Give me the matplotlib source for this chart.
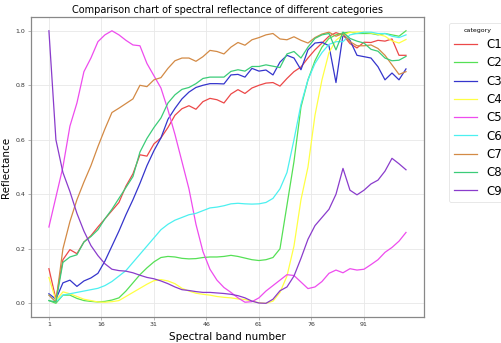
import numpy as np
import matplotlib
matplotlib.use("Agg")
import matplotlib.pyplot as plt

# band numbers (every second band of 103)
bands = list(range(1, 104, 2))
categories = ["C1", "C2", "C3", "C4", "C5", "C6", "C7", "C8", "C9"]

c1 = [0.127, 0.015, 0.16, 0.197, 0.182, 0.225, 0.248, 0.28, 0.31, 0.34, 0.37, 0.43, 0.475,
      0.545, 0.54, 0.585, 0.607, 0.645, 0.69, 0.714, 0.725, 0.712, 0.74, 0.752, 0.747, 0.735,
      0.768, 0.784, 0.77, 0.79, 0.8, 0.808, 0.81, 0.797, 0.825, 0.85, 0.867, 0.9, 0.93, 0.955,
      0.98, 0.993, 0.985, 0.953, 0.937, 0.958, 0.957, 0.965, 0.962, 0.97, 0.91, 0.91]
c2 = [0.01, 0.0, 0.03, 0.03, 0.018, 0.01, 0.007, 0.005, 0.007, 0.012, 0.02, 0.045, 0.075,
      0.105, 0.13, 0.152, 0.168, 0.172, 0.17, 0.165, 0.163, 0.164, 0.168, 0.17, 0.17, 0.172,
      0.176, 0.172, 0.166, 0.16, 0.157, 0.16, 0.168, 0.2, 0.36, 0.52, 0.72, 0.82, 0.89, 0.94,
      0.972, 0.985, 0.992, 0.995, 0.99, 0.99, 0.99, 0.985, 0.99, 0.985, 0.98, 1.0]
c3 = [0.035, 0.015, 0.075, 0.085, 0.062, 0.082, 0.093, 0.11, 0.155, 0.21, 0.265, 0.325, 0.38,
      0.44, 0.505, 0.56, 0.607, 0.675, 0.715, 0.75, 0.775, 0.792, 0.8, 0.806, 0.806, 0.805,
      0.838, 0.84, 0.83, 0.862, 0.852, 0.856, 0.838, 0.885, 0.91, 0.9, 0.857, 0.93, 0.955, 0.958,
      0.945, 0.81, 0.985, 0.965, 0.91, 0.905, 0.9, 0.868, 0.82, 0.845, 0.82, 0.86]
c4 = [0.095, 0.01, 0.042, 0.035, 0.025, 0.015, 0.01, 0.005, 0.004, 0.006, 0.01, 0.025, 0.04,
      0.055, 0.07, 0.083, 0.087, 0.082, 0.072, 0.055, 0.045, 0.037, 0.033, 0.03, 0.025, 0.022,
      0.02, 0.016, 0.014, 0.008, 0.002, 0.0, 0.008, 0.04, 0.1, 0.21, 0.38, 0.5, 0.69, 0.82,
      0.92, 0.965, 0.985, 0.994, 0.996, 0.995, 0.992, 0.987, 0.98, 0.963, 0.955, 0.968]
c5 = [0.28, 0.39, 0.5, 0.65, 0.735, 0.85, 0.9, 0.96, 0.985, 1.0, 0.985, 0.965, 0.948,
      0.945, 0.88, 0.835, 0.79, 0.71, 0.62, 0.52, 0.42, 0.29, 0.19, 0.125, 0.085, 0.058,
      0.04, 0.02, 0.004, 0.006, 0.02, 0.045, 0.065, 0.085, 0.105, 0.102, 0.078, 0.054, 0.06, 0.08,
      0.11, 0.122, 0.112, 0.127, 0.122, 0.125, 0.142, 0.16, 0.187, 0.205, 0.228, 0.26]
c6 = [0.03, 0.005, 0.03, 0.035, 0.04, 0.045, 0.05, 0.055, 0.065, 0.08, 0.1, 0.12, 0.15,
      0.18, 0.21, 0.24, 0.27, 0.29, 0.305, 0.315, 0.325, 0.33, 0.34, 0.35, 0.353, 0.358,
      0.365, 0.367, 0.365, 0.364, 0.365, 0.37, 0.385, 0.42, 0.48, 0.6, 0.73, 0.82, 0.88, 0.92,
      0.95, 0.96, 0.96, 0.985, 0.99, 0.995, 0.995, 0.99, 0.99, 0.98, 0.975, 0.985]
c7 = [0.03, 0.005, 0.2, 0.3, 0.38, 0.445, 0.505, 0.575, 0.64, 0.7, 0.716, 0.733, 0.75,
      0.8, 0.795, 0.82, 0.828, 0.862, 0.89, 0.9, 0.9, 0.888, 0.905, 0.928, 0.924, 0.915,
      0.94, 0.957, 0.947, 0.967, 0.975, 0.985, 0.99, 0.97, 0.967, 0.978, 0.965, 0.955, 0.975, 0.988,
      0.995, 0.98, 0.99, 0.96, 0.945, 0.945, 0.948, 0.935, 0.91, 0.875, 0.84, 0.85]
c8 = [0.01, 0.005, 0.15, 0.17, 0.178, 0.225, 0.245, 0.27, 0.31, 0.345, 0.385, 0.425, 0.465,
      0.555, 0.605, 0.645, 0.68, 0.735, 0.765, 0.785, 0.792, 0.806, 0.825, 0.83, 0.83, 0.83,
      0.851, 0.857, 0.852, 0.869, 0.869, 0.875, 0.87, 0.865, 0.915, 0.924, 0.9, 0.94, 0.972, 0.985,
      0.99, 0.93, 0.995, 0.972, 0.962, 0.955, 0.932, 0.925, 0.9, 0.89, 0.892, 0.906]
c9 = [1.0, 0.6, 0.48, 0.41, 0.33, 0.265, 0.212, 0.175, 0.145, 0.125, 0.12, 0.118, 0.112,
      0.103, 0.095, 0.09, 0.082, 0.072, 0.06, 0.05, 0.047, 0.043, 0.04, 0.04, 0.038, 0.036,
      0.033, 0.028, 0.02, 0.008, 0.001, 0.0, 0.015, 0.046, 0.06, 0.1, 0.165, 0.235, 0.285, 0.315,
      0.345, 0.4, 0.495, 0.415, 0.398, 0.415, 0.438, 0.452, 0.485, 0.532, 0.512, 0.49]

series = [c1, c2, c3, c4, c5, c6, c7, c8, c9]
colors = ["#ec4848", "#55e055", "#3535cc", "#ffff44", "#ee4cee",
          "#4cf0f0", "#d38a45", "#3bcc78", "#8a3ccc"]

fig = plt.figure(figsize=(5.01, 3.43), dpi=100)
ax = fig.add_axes([0.062, 0.076, 0.784, 0.874])

for vals, col, name in zip(series, colors, categories):
    ax.plot(bands, vals, color=col, lw=0.9, label=name)

ax.set_xticks([1, 16, 31, 46, 61, 76, 91])
ax.set_yticks([0.0, 0.2, 0.4, 0.6, 0.8, 1.0])
ax.tick_params(labelsize=4.5, length=2, width=0.5, color="#999999", labelcolor="#333333", pad=2)
ax.grid(True, color="#e8e8e8", lw=0.6)
ax.set_axisbelow(True)
for s in ax.spines.values():
    s.set_color("#888888")
    s.set_linewidth(0.9)

ax.set_title("Comparison chart of spectral reflectance of different categories", fontsize=7, pad=3)
ax.set_xlabel("Spectral band number", fontsize=7.5, labelpad=3)
ax.set_ylabel("Reflectance", fontsize=7.5, labelpad=3)

leg = fig.legend(loc="upper left", bbox_to_anchor=(0.896, 0.933), borderaxespad=0,
                 fontsize=8.5, title="category", title_fontsize=4.5,
                 frameon=True, handlelength=2.0, labelspacing=0.45)
leg.get_frame().set_edgecolor("#dddddd")
leg.get_frame().set_linewidth(0.6)

fig.savefig("out.png", dpi=100)
